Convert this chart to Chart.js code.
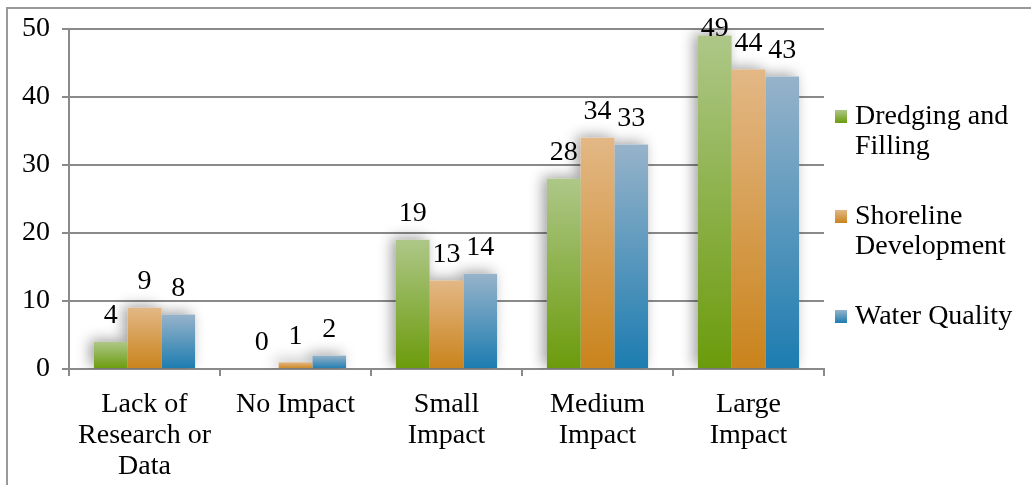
<!DOCTYPE html>
<html>
<head>
<meta charset="utf-8">
<script src="https://cdn.jsdelivr.net/npm/chart.js@4/dist/chart.umd.min.js"></script>
<style>
    html, body { margin: 0; padding: 0; background: #fff; }
    #wrap { position: relative; width: 1031px; height: 485px; overflow: hidden; }
    #frame {
        position: absolute; left: 6px; top: 7px; width: 1040px; height: 500px;
        border-left: 2px solid #999; border-top: 2px solid #999;
    }
    #impactChart { position: absolute; left: 0; top: 0; }
    #legend {
        position: absolute; left: 835px; top: 100px; width: 196px;
        font-family: "Liberation Serif", serif; font-size: 28px; line-height: 30px; color: #000;
    }
    .item { position: relative; padding-left: 20px; margin-bottom: 40px; width: 172px; }
    .swatch { position: absolute; left: 0; top: 10px; width: 12px; height: 13px; }
</style>
</head>
<body>
<div id="wrap">
    <div id="frame"></div>
    <canvas id="impactChart" width="1031" height="485"></canvas>
    <div id="legend"></div>
</div>
<script>
const categories = [
    ['Lack of', 'Research or', 'Data'],
    'No Impact',
    ['Small', 'Impact'],
    ['Medium', 'Impact'],
    ['Large', 'Impact'],
];
const seriesNames = ['Dredging and Filling', 'Shoreline Development', 'Water Quality'];
const dredging = [4, 0, 19, 28, 49];
const shoreline = [9, 1, 13, 34, 44];
const waterQuality = [8, 2, 14, 33, 43];
const yTicks = [0, 10, 20, 30, 40, 50];

// top / bottom colours of each series gradient
const shades = [
    ['#aec788', '#6b9b0b'],
    ['#e3b886', '#c9831b'],
    ['#97b3ca', '#1c7cb0'],
];

const fontFamily = '"Liberation Serif", serif';
const fontSize = 28;
const gridColor = '#8a8a8a';

function barGradient(index) {
    return function(context) {
        const chart = context.chart;
        const yScale = chart.scales.y;
        if (!chart.chartArea || !yScale || context.type !== 'data') return shades[index][1];
        const top = yScale.getPixelForValue(context.raw);
        const bottom = yScale.getPixelForValue(0);
        if (bottom - top < 1) return shades[index][1];
        const g = chart.ctx.createLinearGradient(0, top, 0, bottom);
        g.addColorStop(0, shades[index][0]);
        g.addColorStop(1, shades[index][1]);
        return g;
    };
}

// soft shadow behind every bar, drawn before the bars themselves
const barShadow = {
    id: 'barShadow',
    beforeDatasetsDraw(chart) {
        const { ctx, chartArea } = chart;
        ctx.save();
        ctx.beginPath();
        ctx.rect(chartArea.left, chartArea.top, chartArea.right - chartArea.left, chartArea.bottom - chartArea.top);
        ctx.clip();
        ctx.shadowColor = 'rgba(0,0,0,0.38)';
        ctx.shadowBlur = 14;
        ctx.shadowOffsetX = -4;
        ctx.shadowOffsetY = -2;
        ctx.fillStyle = '#fff';
        chart.data.datasets.forEach((ds, i) => {
            chart.getDatasetMeta(i).data.forEach(bar => {
                const h = bar.base - bar.y;
                if (h < 1) return;
                ctx.fillRect(bar.x - bar.width / 2, bar.y, bar.width, h);
            });
        });
        ctx.restore();
    },
};

// value printed above each bar, kept inside the plot area
const valueLabels = {
    id: 'valueLabels',
    afterDatasetsDraw(chart) {
        const { ctx, chartArea } = chart;
        ctx.save();
        ctx.font = fontSize + 'px ' + fontFamily;
        ctx.fillStyle = '#000';
        ctx.textAlign = 'center';
        ctx.textBaseline = 'middle';
        chart.data.datasets.forEach((ds, i) => {
            chart.getDatasetMeta(i).data.forEach((bar, j) => {
                const y = Math.max(bar.y - 26, chartArea.top);
                ctx.fillText(String(ds.data[j]), bar.x, y);
            });
        });
        ctx.restore();
    },
};

const seriesData = [dredging, shoreline, waterQuality];

const chart = new Chart(document.getElementById('impactChart'), {
    type: 'bar',
    data: {
        labels: categories,
        datasets: seriesData.map((data, i) => ({
            label: seriesNames[i],
            data,
            backgroundColor: barGradient(i),
            borderWidth: 0,
            categoryPercentage: 0.67,
            barPercentage: 1,
        })),
    },
    options: {
        responsive: false,
        animation: false,
        layout: { padding: { left: 0, top: 27, right: 207, bottom: 0 } },
        plugins: {
            legend: { display: false },
            tooltip: { enabled: false },
        },
        scales: {
            x: {
                afterFit: (scale) => { scale.height = 116; },
                grid: {
                    offset: true,
                    drawOnChartArea: false,
                    drawTicks: true,
                    tickLength: 7,
                    color: gridColor,
                    lineWidth: 2,
                },
                border: { display: true, color: gridColor, width: 2 },
                ticks: {
                    color: '#000',
                    padding: 13,
                    maxRotation: 0,
                    autoSkip: false,
                    font: { family: fontFamily, size: fontSize, lineHeight: '31px' },
                },
            },
            y: {
                min: 0,
                max: 50,
                afterFit: (scale) => { scale.width = 69; },
                afterBuildTicks: (scale) => { scale.ticks = yTicks.map(v => ({ value: v })); },
                grid: {
                    color: gridColor,
                    lineWidth: 2,
                    tickLength: 7,
                },
                border: { display: true, color: gridColor, width: 2 },
                ticks: {
                    color: '#000',
                    padding: 12,
                    font: { family: fontFamily, size: fontSize },
                },
            },
        },
    },
    plugins: [barShadow, valueLabels],
});

// legend built from the dataset names
const legendEl = document.getElementById('legend');
chart.data.datasets.forEach((ds, i) => {
    const item = document.createElement('div');
    item.className = 'item';
    const sw = document.createElement('span');
    sw.className = 'swatch';
    sw.style.background = 'linear-gradient(' + shades[i][0] + ', ' + shades[i][1] + ')';
    item.appendChild(sw);
    item.appendChild(document.createTextNode(ds.label));
    legendEl.appendChild(item);
});
</script>
</body>
</html>
